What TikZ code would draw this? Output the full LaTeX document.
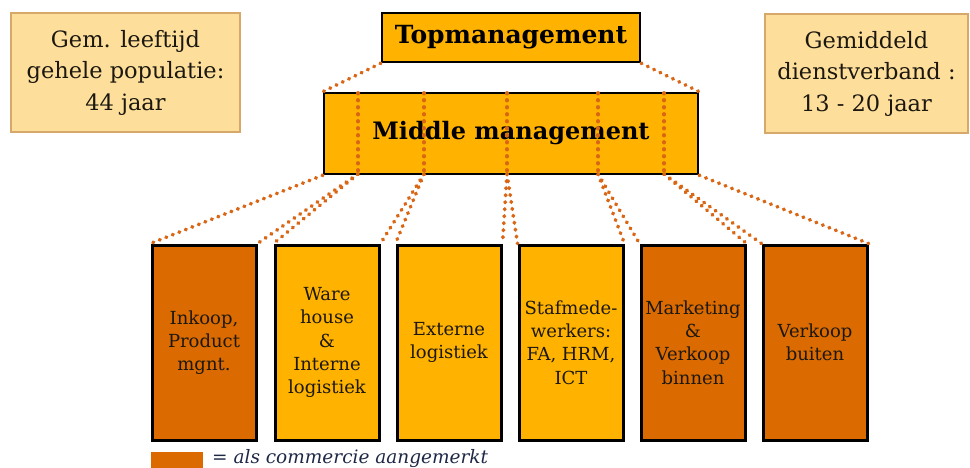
\documentclass[tikz,border=0pt]{standalone}
\usepackage{fontspec}
\setmainfont{DejaVu Serif}
\definecolor{amber}{RGB}{255,179,0}
\definecolor{darkor}{RGB}{219,106,0}
\definecolor{lightbox}{RGB}{253,223,155}
\definecolor{lightedge}{RGB}{214,168,106}
\definecolor{dotcol}{RGB}{217,102,20}
\definecolor{txt}{RGB}{28,24,16}
\definecolor{legtxt}{RGB}{30,40,70}
\tikzset{
  infobox/.style={draw=lightedge, fill=lightbox, line width=1.5pt, inner sep=0pt,
    minimum width=229pt, minimum height=119pt, align=center, text=txt,
    font=\fontsize{22.5}{31.5}\selectfont},
  headbox/.style={draw=black, fill=amber, line width=2.5pt, inner sep=0pt,
    text=black, font=\fontsize{25}{30}\selectfont\bfseries},
  unitbox/.style={draw=black, line width=3pt, inner sep=0pt,
    minimum width=104pt, minimum height=195pt, align=center, text=txt,
    font=\fontsize{18}{23.3}\selectfont},
  comm/.style={unitbox, fill=darkor},
  other/.style={unitbox, fill=amber},
  dotline/.style={draw=dotcol, line width=3.8pt, line cap=round, dash pattern=on 0.6pt off 6.4pt}
}
\begin{document}
\begin{tikzpicture}[x=1pt,y=-1pt]
\useasboundingbox (0,0) rectangle (970,468);
\clip (0,0) rectangle (970,468);
% info boxes
\node[infobox] (left) at (125.5,72.5) {Gem. leeftijd\\gehele populatie:\\44 jaar};
\node[infobox, minimum width=203pt] (right) at (866.5,73.5) {Gemiddeld\\dienstverband :\\13 - 20 jaar};
% management
\node[headbox, minimum width=258pt, minimum height=49pt] (top) at (511,37.5) {Topmanagement};
\node[headbox, minimum width=374pt, minimum height=81pt, font=\fontsize{24}{30}\selectfont\bfseries] (mid) at (511,133.5) {Middle management};
% units
\node[comm]  (b1) at (204,342.5) {Inkoop,\\Product\\mgnt.};
\node[other] (b2) at (327,342.5) {Ware\\house\\\&\\Interne\\logistiek};
\node[other] (b3) at (449,342.5) {Externe\\logistiek};
\node[other] (b4) at (571,342.5) {Stafmede-\\werkers:\\FA, HRM,\\ICT};
\node[comm]  (b5) at (693,342.5) {Marketing\\\&\\Verkoop\\binnen};
\node[comm]  (b6) at (815,342.5) {Verkoop\\buiten};
% internal coordinates in middle box
\coordinate (v1t) at (358,93);  \coordinate (v1b) at (358,174);
\coordinate (v2t) at (424,93);  \coordinate (v2b) at (424,174);
\coordinate (v3t) at (507,93);  \coordinate (v3b) at (507,174);
\coordinate (v4t) at (598,93);  \coordinate (v4b) at (598,174);
\coordinate (v5t) at (664,93);  \coordinate (v5b) at (664,174);
% dotted connectors
\draw[dotline] (top.south west) -- (mid.north west);
\draw[dotline] (top.south east) -- (mid.north east);
\foreach \i in {1,...,5} {\draw[dotline] (v\i t) -- (v\i b);}
\draw[dotline] (mid.south west) -- (b1.north west);
\draw[dotline] (v1b) -- (b1.north east);
\draw[dotline] (v1b) -- (b2.north west);
\draw[dotline] (v2b) -- (b2.north east);
\draw[dotline] (v2b) -- (b3.north west);
\draw[dotline] (v3b) -- (b3.north east);
\draw[dotline] (v3b) -- (b4.north west);
\draw[dotline] (v4b) -- (b4.north east);
\draw[dotline] (v4b) -- (b5.north west);
\draw[dotline] (v5b) -- (b5.north east);
\draw[dotline] (v5b) -- (b6.north west);
\draw[dotline] (mid.south east) -- (b6.north east);
% legend
\node[fill=darkor, inner sep=0pt, minimum width=52pt, minimum height=20pt, anchor=north west] (leg) at (151,452) {};
\node[anchor=base west, inner sep=0pt, text=legtxt, font=\fontsize{18.5}{22}\selectfont\itshape] (legtext) at (212,463.5) {= als commercie aangemerkt};
\end{tikzpicture}
\end{document}
